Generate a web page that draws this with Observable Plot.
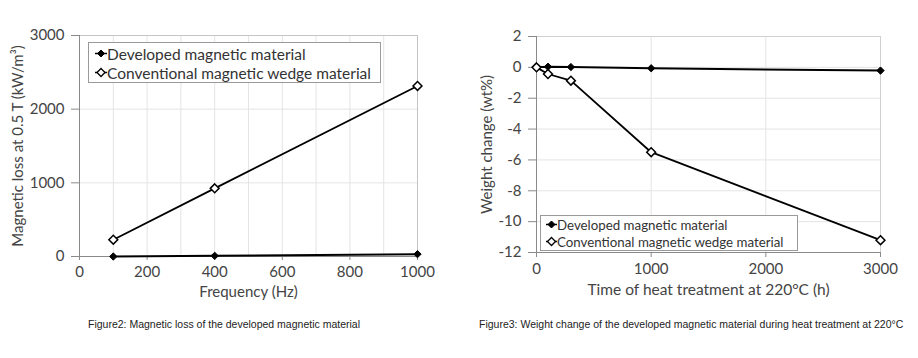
<!DOCTYPE html>
<html>
<head>
<meta charset="utf-8">
<script src="https://cdn.jsdelivr.net/npm/d3@7"></script>
<script src="https://cdn.jsdelivr.net/npm/@observablehq/plot@0.6"></script>
<style>
  body { margin: 0; background: #fff; }
  #wrap { position: relative; width: 918px; height: 358px; background: #fff; overflow: hidden; }
  .panel { position: absolute; top: 0; }
  .legend { position: absolute; border: 1px solid #9a9a9a; background: #fff; font-family: Lato, "Open Sans", sans-serif; color: #333; box-sizing: border-box; }
  .legend .row { display: flex; align-items: center; white-space: nowrap; }
  .legend svg { flex: none; }
  .caption { position: absolute; font-family: "Liberation Sans", Arial, sans-serif; font-size: 10.5px; color: #222; white-space: nowrap; }
</style>
</head>
<body>
<div id="wrap">
  <div id="c1" class="panel" style="left:0px"></div>
  <div id="c2" class="panel" style="left:459px"></div>
  <div id="leg1" class="legend" style="left:88px;top:42px;width:293px;height:41px;font-size:15.5px;padding:1px 0 0 6px"></div>
  <div id="leg2" class="legend" style="left:540px;top:215px;width:258px;height:36px;font-size:13.3px;padding:0 0 0 5px"></div>
  <div class="caption" style="left:88px;top:318px">Figure2: Magnetic loss of the developed magnetic material</div>
  <div class="caption" style="left:479px;top:318px">Figure3: Weight change of the developed magnetic material during heat treatment at 220°C</div>
</div>
<script>
// ---- Data ----
const seriesNames = ["Developed magnetic material", "Conventional magnetic wedge material"];

const freq = [100, 400, 1000];
const lossDeveloped = [0, 9, 32];
const lossConventional = [228, 925, 2315];
const freqTicks = [0, 200, 400, 600, 800, 1000];
const lossTicks = [0, 1000, 2000, 3000];

const hours = [0, 100, 300, 1000, 3000];
const weightDeveloped = [0, 0.04, 0.02, -0.06, -0.21];
const weightConventional = [0, -0.43, -0.86, -5.5, -11.2];
const hourTicks = [0, 1000, 2000, 3000];
const weightTicks = [2, 0, -2, -4, -6, -8, -10, -12];

// ---- Tables ----
const lossData = freq.flatMap((f, i) => [
  {x: f, y: lossDeveloped[i], s: seriesNames[0]},
  {x: f, y: lossConventional[i], s: seriesNames[1]}
]);
const weightData = hours.flatMap((h, i) => [
  {x: h, y: weightDeveloped[i], s: seriesNames[0]},
  {x: h, y: weightConventional[i], s: seriesNames[1]}
]);

const FONT = "Lato, 'Open Sans', sans-serif";
const AX = "#8a8a8a";
const GRID = "#e4e4e4";
const FS = 15;

function seriesMarks(data) {
  const dev = data.filter(d => d.s === seriesNames[0]);
  const con = data.filter(d => d.s === seriesNames[1]);
  return [
    Plot.line(dev, {x: "x", y: "y", stroke: "#000", strokeWidth: 2}),
    Plot.line(con, {x: "x", y: "y", stroke: "#000", strokeWidth: 1.8}),
    Plot.dot(dev, {x: "x", y: "y", symbol: "diamond2", r: 3.3, fill: "#000", stroke: "#000", strokeWidth: 1}),
    Plot.dot(con, {x: "x", y: "y", symbol: "diamond2", r: 4, fill: "#fff", stroke: "#000", strokeWidth: 1.5})
  ];
}

// ---- Figure 2 ----
const p1 = Plot.plot({
  width: 460, height: 310,
  marginLeft: 79, marginRight: 43, marginTop: 35, marginBottom: 54,
  style: {fontFamily: FONT, fontSize: FS + "px", color: "#444", background: "transparent"},
  x: {domain: [0, 1000]},
  y: {domain: [0, 3000]},
  marks: [
    Plot.gridX(d3.range(100, 1001, 100), {stroke: GRID, strokeOpacity: 1}),
    Plot.gridY([1000, 2000], {stroke: GRID, strokeOpacity: 1}),
    Plot.frame({stroke: "#c4c4c4"}),
    Plot.axisX({ticks: freqTicks, tickSize: 4, tickPadding: 6, stroke: AX, tickFormat: d => String(d), label: null}),
    Plot.axisY({ticks: lossTicks, tickSize: 8, tickPadding: 7, stroke: AX, tickFormat: d => String(d), label: null}),
    Plot.ruleX([0], {stroke: AX}),
    Plot.ruleY([0], {stroke: AX}),
    ...seriesMarks(lossData),
    Plot.text(["Frequency (Hz)"], {frameAnchor: "bottom", lineAnchor: "middle", textAnchor: "middle", dy: 36, fontSize: FS, fill: "#444"}),
    Plot.text(["Magnetic loss at 0.5 T (kW/m³)"], {frameAnchor: "left", lineAnchor: "middle", textAnchor: "middle", rotate: -90, dx: -61, fontSize: FS, fill: "#444"})
  ]
});
document.getElementById("c1").appendChild(p1);

// ---- Figure 3 ----
const p2 = Plot.plot({
  width: 459, height: 310,
  marginLeft: 77, marginRight: 38, marginTop: 36, marginBottom: 58,
  style: {fontFamily: FONT, fontSize: FS + "px", color: "#444", background: "transparent"},
  x: {domain: [0, 3000]},
  y: {domain: [-12, 2]},
  marks: [
    Plot.gridX([1000, 2000, 3000], {stroke: GRID, strokeOpacity: 1}),
    Plot.gridY(weightTicks, {stroke: GRID, strokeOpacity: 1}),
    Plot.frame({stroke: "#d0d0d0"}),
    Plot.axisX({ticks: hourTicks, tickSize: 5, tickPadding: 6, stroke: AX, tickFormat: d => String(d), label: null}),
    Plot.axisY({ticks: weightTicks, tickSize: 8, tickPadding: 7, stroke: AX, tickFormat: d => String(d), label: null}),
    Plot.ruleX([0], {stroke: AX}),
    Plot.ruleY([-12], {stroke: AX}),
    ...seriesMarks(weightData),
    Plot.text(["Time of heat treatment at 220°C (h)"], {frameAnchor: "bottom", lineAnchor: "middle", textAnchor: "middle", dy: 38, fontSize: 15.5, fill: "#444"}),
    Plot.text(["Weight change (wt%)"], {frameAnchor: "left", lineAnchor: "middle", textAnchor: "middle", rotate: -90, dx: -49, fontSize: FS, fill: "#444"})
  ]
});
document.getElementById("c2").appendChild(p2);

// ---- Legends ----
function legend(id, size, rowH) {
  const el = document.getElementById(id);
  seriesNames.forEach((name, i) => {
    const row = document.createElement("div");
    row.className = "row";
    row.style.height = rowH + "px";
    const open = i === 1;
    const s = open ? 4 : 3.5;
    row.innerHTML =
      `<svg width="${size}" height="${rowH}" viewBox="0 0 ${size} ${rowH}">` +
      `<line x1="0" x2="${size}" y1="${rowH/2}" y2="${rowH/2}" stroke="#000" stroke-width="1.5"/>` +
      `<polygon points="${size/2},${rowH/2 - s} ${size/2 + s},${rowH/2} ${size/2},${rowH/2 + s} ${size/2 - s},${rowH/2}" fill="${open ? "#fff" : "#000"}" stroke="#000" stroke-width="${open ? 1.3 : 1}"/>` +
      `</svg><span>${name}</span>`;
    el.appendChild(row);
  });
}
legend("leg1", 12, 19);
legend("leg2", 11, 17);
</script>
</body>
</html>
